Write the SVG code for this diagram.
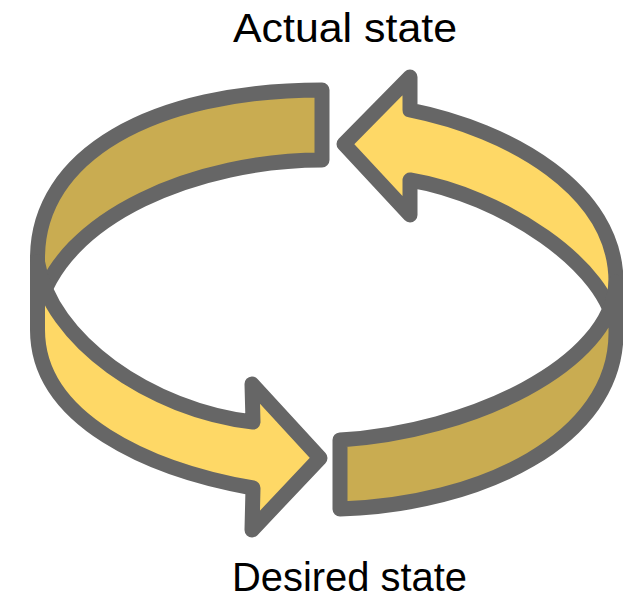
<svg xmlns="http://www.w3.org/2000/svg" width="623" height="600" viewBox="0 0 623 600">
  <style>
    .band { stroke: #666666; stroke-width: 15; stroke-linejoin: round; }
    .dark { fill: #C9AC51; }
    .light { fill: #FED866; }
    .label { font-family: "Liberation Sans", Arial, sans-serif; font-size: 40px; fill: #000000; text-anchor: middle; }
  </style>
  <rect width="623" height="600" fill="#ffffff"/>
  <g id="back-left-band">
    <path class="band dark" d="M 322,90 C 151,90 37.5,156 37.5,258 L 37.5,312 C 60,215 200,160 322,160 Z"/>
  </g>
  <g id="back-right-arrow">
    <path class="band light" d="M 410,110 C 510,130 616,190 616,282 L 616,333 C 610,265 500,195 410,180 L 410,215 L 344,144 L 410,77 Z"/>
  </g>
  <g id="front-left-arrow">
    <path class="band light" d="M 37.5,262 C 50,340 150,410 253,422 L 252,384 L 320,458 L 252,530 L 253,488 C 150,470 37.5,420 37.5,330 Z"/>
  </g>
  <g id="front-right-band">
    <path class="band dark" d="M 340,440 C 470,432 612,365 616,282 L 616,333 C 616,440 480,505 340,509 Z"/>
  </g>
  <g id="connectors"></g>
  <g id="label-actual">
    <text class="label" x="345" y="42" textLength="224" lengthAdjust="spacingAndGlyphs">Actual state</text>
  </g>
  <g id="label-desired">
    <text class="label" x="349.5" y="591" textLength="235" lengthAdjust="spacingAndGlyphs">Desired state</text>
  </g>
</svg>
